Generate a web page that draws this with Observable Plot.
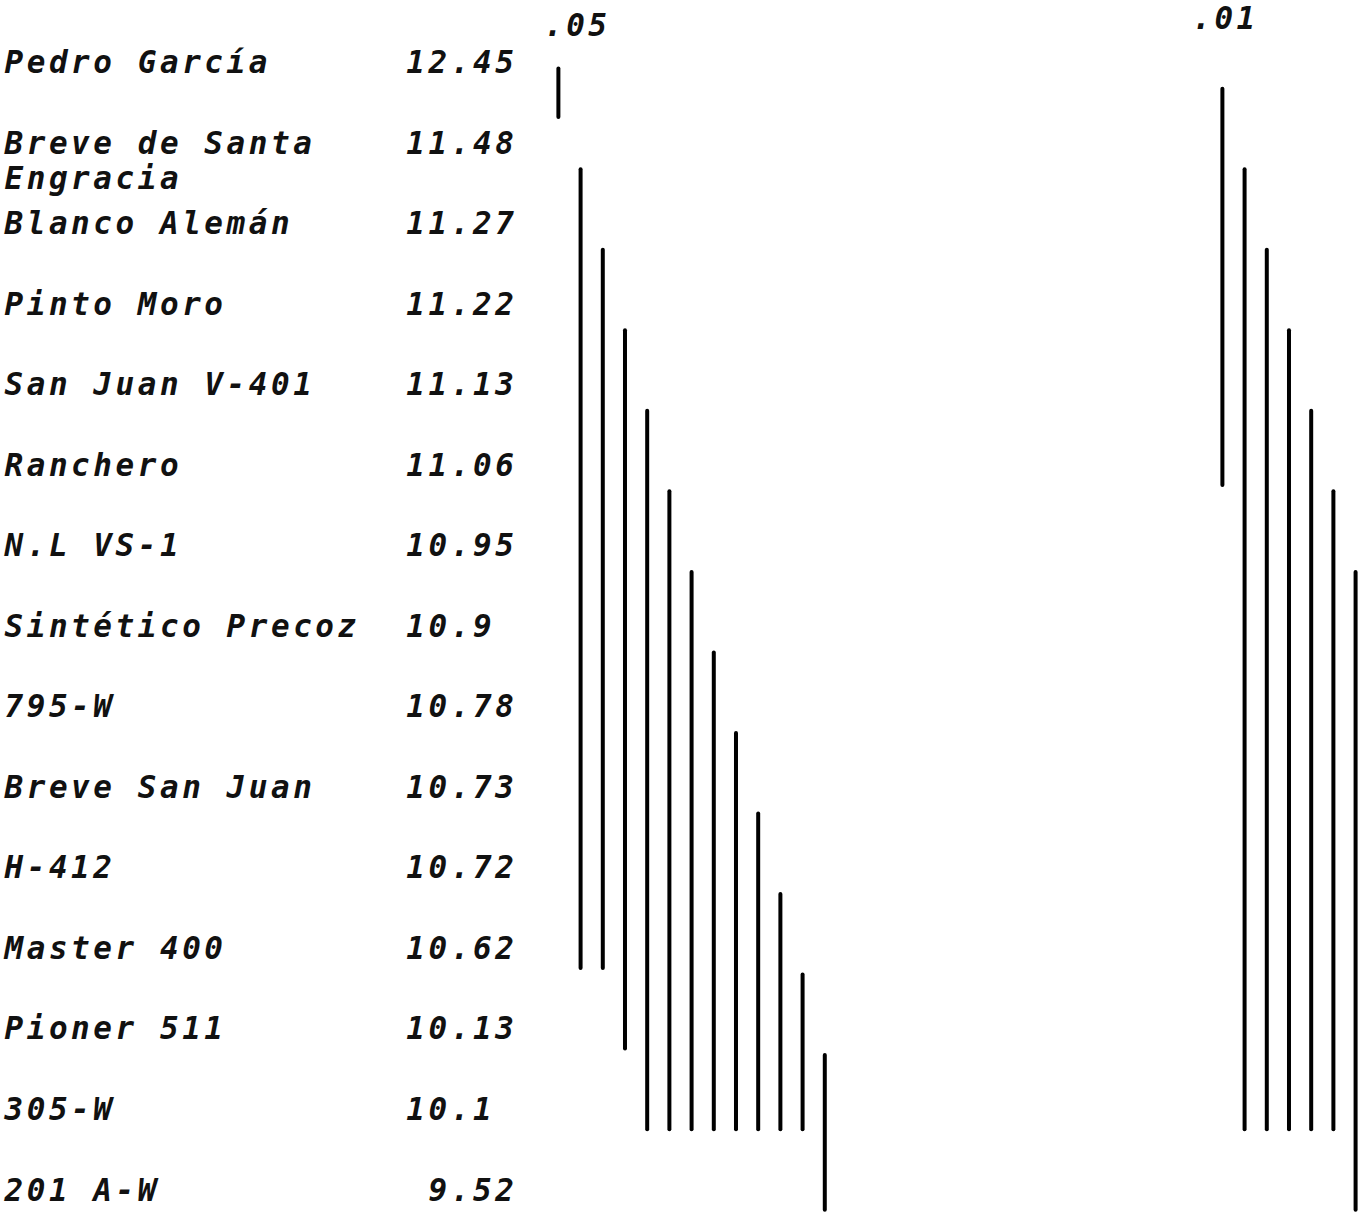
<!DOCTYPE html>
<html>
<head>
<meta charset="utf-8">
<script src="https://cdn.jsdelivr.net/npm/d3@7"></script>
<script src="https://cdn.jsdelivr.net/npm/@observablehq/plot@0.6"></script>
<style>
  html, body { margin: 0; padding: 0; background: #fff; }
</style>
</head>
<body>
<div id="chart"></div>
<script>
// ---- data ----
const varieties = [
  "Pedro García",
  "Breve de Santa\nEngracia",
  "Blanco Alemán",
  "Pinto Moro",
  "San Juan V-401",
  "Ranchero",
  "N.L VS-1",
  "Sintético Precoz",
  "795-W",
  "Breve San Juan",
  "H-412",
  "Master 400",
  "Pioner 511",
  "305-W",
  "201 A-W"
];
const means = [12.45, 11.48, 11.27, 11.22, 11.13, 11.06, 10.95, 10.9, 10.78, 10.73, 10.72, 10.62, 10.13, 10.1, 9.52];

const levels = [".05", ".01"];
// groups of means that do not differ (row index of first and last member)
const starts05 = [0, 1, 2, 3, 4, 5, 6, 7, 8, 9, 10, 11, 12];
const ends05   = [0, 11, 11, 12, 13, 13, 13, 13, 13, 13, 13, 13, 14];
const starts01 = [0, 1, 2, 3, 4, 5, 6];
const ends01   = [5, 13, 13, 13, 13, 13, 14];

// ---- layout (typewriter columns) ----
const layout = {
  ".05": {firstCol: 24.95, headerCol: 24.3, headerTop: 13},
  ".01": {firstCol: 54.86, headerCol: 53.5, headerTop: 6}
};
const valueCol = 18.1;
const pitch = 22.2;
const fs = 31;
const lineGap = 35;

const rows = varieties.map((name, i) => ({name, i, mean: means[i], label: String(means[i])}));
const nameLines = rows.flatMap(r => r.name.split("\n").map((t, j) => ({i: r.i, j, t})));

const segs = [];
function addSegs(level, starts, ends) {
  starts.forEach((s, k) => {
    const e = ends[k];
    const single = s === e;
    segs.push({
      level,
      col: layout[level].firstCol + k,
      y1: single ? s - 0.05 : s + 0.2,
      y2: single ? s + 0.55 : e + 0.12
    });
  });
}
addSegs(".05", starts05, ends05);
addSegs(".01", starts01, ends01);

const font = {
  fontFamily: "'DejaVu Sans Mono', monospace",
  fontSize: fs,
  fontStyle: "oblique",
  fontWeight: "bold",
  fill: "#111"
};
const baseDy = -0.71 * fs; // baseline at the row position

const chart = Plot.plot({
  width: 1361,
  height: 1217,
  margin: 0,
  style: "background:#fff; letter-spacing:" + (pitch - 0.602 * fs).toFixed(2) + "px; overflow:visible;",
  x: {domain: [0, 61], range: [4, 4 + 61 * pitch], axis: null},
  y: {domain: [0, 14], range: [72.6, 1200], axis: null},
  marks: [
    ...[0, 1].map(j => Plot.text(nameLines.filter(d => d.j === j), {
      x: () => 0, y: "i", text: "t",
      textAnchor: "start", lineAnchor: "top", dy: baseDy + j * lineGap,
      ...font
    })),
    Plot.text(rows, {
      x: d => valueCol + (2 - String(Math.floor(d.mean)).length),
      y: "i", text: "label",
      textAnchor: "start", lineAnchor: "top", dy: baseDy,
      ...font
    }),
    ...levels.map(level => Plot.text([level], {
      x: () => layout[level].headerCol,
      frameAnchor: "top", text: d => d,
      textAnchor: "start", lineAnchor: "top", dy: layout[level].headerTop,
      ...font
    })),
    Plot.ruleX(segs, {
      x: "col", y1: "y1", y2: "y2",
      stroke: "#000", strokeWidth: 4, strokeLinecap: "round"
    })
  ]
});
document.getElementById("chart").appendChild(chart);
</script>
</body>
</html>
